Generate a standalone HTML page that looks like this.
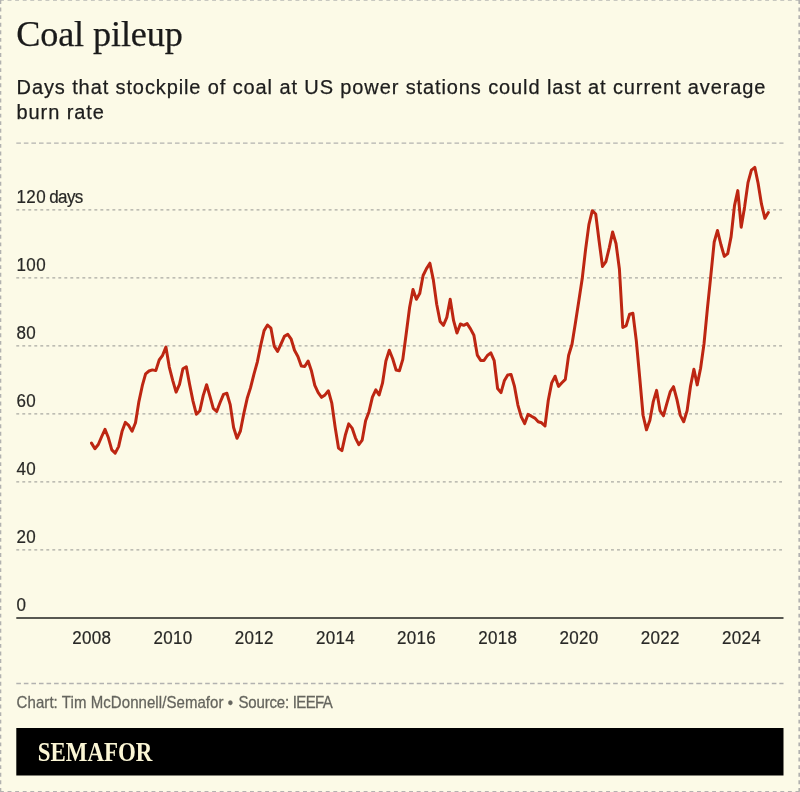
<!DOCTYPE html>
<html lang="en">
<head>
<meta charset="utf-8">
<title>Coal pileup</title>
<style>
html,body{margin:0;padding:0;}
body{width:800px;height:792px;background:#fcfae7;position:relative;overflow:hidden;font-family:"Liberation Sans",Arial,sans-serif;}
#frame{position:absolute;left:0;top:0;width:800px;height:792px;}
h1{-webkit-text-stroke:0.25px #1a1a1a;position:absolute;left:16.2px;top:11.8px;margin:0;font-family:"Liberation Serif","Times New Roman",serif;font-weight:400;font-size:36.2px;line-height:44px;color:#1a1a1a;letter-spacing:-0.12px;white-space:nowrap;}
p.sub{position:absolute;left:16.6px;top:74.9px;-webkit-text-stroke:0.25px #1d1d1d;width:780px;margin:0;font-size:20px;line-height:25px;color:#1d1d1d;letter-spacing:0.89px;white-space:nowrap;}
svg text{font-family:"Liberation Sans",Arial,sans-serif;}
.grid{stroke:#a9a9a3;stroke-width:1.1;stroke-dasharray:2.9 3.107;fill:none;}
.sep{stroke:#b2b2b0;stroke-width:1.3;stroke-dasharray:4.6 2.955;fill:none;}
.ylab{font-size:17px;fill:#282826;letter-spacing:0.4px;stroke:#282826;stroke-width:0.2px;}
.ylab .u{letter-spacing:-0.6px;}
.xlab{font-size:17px;fill:#282826;letter-spacing:0.3px;stroke:#282826;stroke-width:0.2px;}
.foot{font-size:15px;fill:#65655e;stroke:#65655e;stroke-width:0.25px;letter-spacing:-0.02px;}
.logo{font-family:"Liberation Serif","Times New Roman",serif;font-weight:700;font-size:26.8px;fill:#fbf6d5;}
</style>
</head>
<body>
<h1>Coal pileup</h1>
<p class="sub">Days that stockpile of coal at US power stations could last at current average<br>burn rate</p>
<svg id="frame" width="800" height="792" viewBox="0 0 800 792">
<g stroke="#b2b2b0" stroke-dasharray="3.9 3.676" fill="none">
<line x1="0" x2="800" y1="0.4" y2="0.4" stroke-width="0.8"/>
<line x1="0" x2="800" y1="791.5" y2="791.5" stroke-width="1"/>
<line x1="0.65" x2="0.65" y1="0" y2="792" stroke-width="1.3"/>
<line x1="799.2" x2="799.2" y1="0" y2="792" stroke-width="1.6"/>
</g>
<line x1="16.3" x2="783.5" y1="143.2" y2="143.2" class="sep"/>
<line x1="16.3" x2="782" y1="209.9" y2="209.9" class="grid"/>
<line x1="16.3" x2="782" y1="277.9" y2="277.9" class="grid"/>
<line x1="16.3" x2="782" y1="345.9" y2="345.9" class="grid"/>
<line x1="16.3" x2="782" y1="413.9" y2="413.9" class="grid"/>
<line x1="16.3" x2="782" y1="481.9" y2="481.9" class="grid"/>
<line x1="16.3" x2="782" y1="549.9" y2="549.9" class="grid"/>

<line x1="16.3" x2="783.5" y1="618" y2="618" stroke="#222220" stroke-width="1.6"/>
<text class="ylab" transform="translate(16.5,202.6) scale(1,1.06)">120 <tspan class="u" dx="-1.9">days</tspan></text>
<text class="ylab" transform="translate(16.5,270.6) scale(1,1.06)">100</text>
<text class="ylab" transform="translate(16.5,338.6) scale(1,1.06)">80</text>
<text class="ylab" transform="translate(16.5,406.6) scale(1,1.06)">60</text>
<text class="ylab" transform="translate(16.5,474.6) scale(1,1.06)">40</text>
<text class="ylab" transform="translate(16.5,542.6) scale(1,1.06)">20</text>
<text class="ylab" transform="translate(16.5,610.6) scale(1,1.06)">0</text>

<text class="xlab" text-anchor="middle" transform="translate(91.8,643.8) scale(1,1.09)">2008</text>
<text class="xlab" text-anchor="middle" transform="translate(173.0,643.8) scale(1,1.09)">2010</text>
<text class="xlab" text-anchor="middle" transform="translate(254.2,643.8) scale(1,1.09)">2012</text>
<text class="xlab" text-anchor="middle" transform="translate(335.4,643.8) scale(1,1.09)">2014</text>
<text class="xlab" text-anchor="middle" transform="translate(416.6,643.8) scale(1,1.09)">2016</text>
<text class="xlab" text-anchor="middle" transform="translate(497.8,643.8) scale(1,1.09)">2018</text>
<text class="xlab" text-anchor="middle" transform="translate(579.0,643.8) scale(1,1.09)">2020</text>
<text class="xlab" text-anchor="middle" transform="translate(660.2,643.8) scale(1,1.09)">2022</text>
<text class="xlab" text-anchor="middle" transform="translate(741.4,643.8) scale(1,1.09)">2024</text>

<path d="M91.5,443.1 L94.9,448.7 L98.3,444.5 L101.7,436.5 L105.0,429.3 L108.4,437.8 L111.8,449.8 L115.2,453.1 L118.6,446.6 L122.0,431.6 L125.3,422.4 L128.7,425.4 L132.1,431.2 L135.5,422.8 L138.9,401.6 L142.3,385.7 L145.6,373.8 L149.0,371.0 L152.4,369.9 L155.8,370.6 L159.2,360.0 L162.6,355.3 L165.9,347.1 L169.3,367.1 L172.7,380.3 L176.1,392.1 L179.5,384.4 L182.9,368.8 L186.3,366.8 L189.6,384.4 L193.0,401.1 L196.4,414.3 L199.8,410.8 L203.2,395.6 L206.6,384.7 L209.9,396.2 L213.3,408.3 L216.7,411.5 L220.1,402.5 L223.5,394.4 L226.9,393.3 L230.2,404.6 L233.6,427.5 L237.0,438.3 L240.4,431.0 L243.8,413.6 L247.2,398.3 L250.5,387.9 L253.9,374.3 L257.3,362.1 L260.7,345.4 L264.1,330.6 L267.5,325.0 L270.9,328.1 L274.2,346.1 L277.6,351.4 L281.0,344.0 L284.4,336.4 L287.8,334.3 L291.2,339.2 L294.5,350.3 L297.9,356.5 L301.3,366.0 L304.7,366.5 L308.1,361.1 L311.5,371.1 L314.8,385.4 L318.2,392.6 L321.6,397.3 L325.0,394.9 L328.4,390.8 L331.8,403.2 L335.1,426.9 L338.5,448.1 L341.9,450.6 L345.3,435.3 L348.7,423.9 L352.1,428.1 L355.5,438.1 L358.8,444.7 L362.2,440.1 L365.6,420.7 L369.0,411.7 L372.4,397.1 L375.8,389.9 L379.1,395.0 L382.5,383.2 L385.9,361.0 L389.3,350.3 L392.7,358.7 L396.1,370.0 L399.4,370.8 L402.8,359.4 L406.2,333.8 L409.6,307.5 L413.0,289.5 L416.4,299.3 L419.7,293.6 L423.1,275.5 L426.5,268.6 L429.9,263.2 L433.3,279.6 L436.7,304.3 L440.1,321.5 L443.4,325.3 L446.8,317.4 L450.2,299.3 L453.6,320.7 L457.0,333.0 L460.4,324.0 L463.7,325.3 L467.1,323.6 L470.5,328.9 L473.9,335.3 L477.3,355.1 L480.7,360.4 L484.0,360.4 L487.4,355.5 L490.8,352.8 L494.2,360.7 L497.6,388.5 L501.0,392.6 L504.3,380.8 L507.7,374.9 L511.1,374.6 L514.5,386.4 L517.9,405.1 L521.3,416.9 L524.7,423.6 L528.0,414.4 L531.4,416.2 L534.8,418.1 L538.2,421.8 L541.6,422.8 L545.0,426.0 L548.3,400.3 L551.7,382.9 L555.1,376.2 L558.5,386.4 L561.9,382.8 L565.3,379.4 L568.6,355.5 L572.0,344.2 L575.4,323.0 L578.8,301.0 L582.2,278.8 L585.6,249.3 L588.9,224.6 L592.3,210.7 L595.7,214.0 L599.1,241.0 L602.5,266.5 L605.9,261.6 L609.3,247.6 L612.6,232.0 L616.0,243.5 L619.4,269.0 L622.8,327.4 L626.2,325.6 L629.6,314.1 L632.9,313.3 L636.3,340.6 L639.7,377.5 L643.1,415.5 L646.5,429.8 L649.9,420.2 L653.2,401.9 L656.6,390.4 L660.0,410.6 L663.4,415.8 L666.8,403.6 L670.2,391.8 L673.5,386.7 L676.9,399.4 L680.3,415.4 L683.7,421.7 L687.1,410.6 L690.5,386.2 L693.9,369.3 L697.2,384.9 L700.6,368.2 L704.0,343.9 L707.4,308.7 L710.8,275.8 L714.2,242.0 L717.5,230.5 L720.9,244.5 L724.3,256.4 L727.7,253.6 L731.1,236.6 L734.5,205.6 L737.8,190.6 L741.2,227.2 L744.6,206.9 L748.0,182.6 L751.4,170.1 L754.8,167.4 L758.1,183.3 L761.5,204.2 L764.9,218.3 L768.3,212.5" fill="none" stroke="#bd2612" stroke-width="3" stroke-linejoin="round" stroke-linecap="round"/>
<line x1="16.3" x2="783.5" y1="683.5" y2="683.5" class="sep"/>
<text class="foot" transform="translate(16.6,708) scale(1,1.13)"><tspan letter-spacing="0.07">Chart: Tim McDonnell/Semafor</tspan> • <tspan dx="1.4" letter-spacing="-0.16">Source:</tspan><tspan letter-spacing="-0.58"> IEEFA</tspan></text>
<rect x="16.3" y="728" width="767.2" height="47.5" fill="#000"/>
<text x="0" y="0" class="logo" transform="translate(37.8,760.6) scale(0.855,1)">SEMAFOR</text>
</svg>
</body>
</html>
